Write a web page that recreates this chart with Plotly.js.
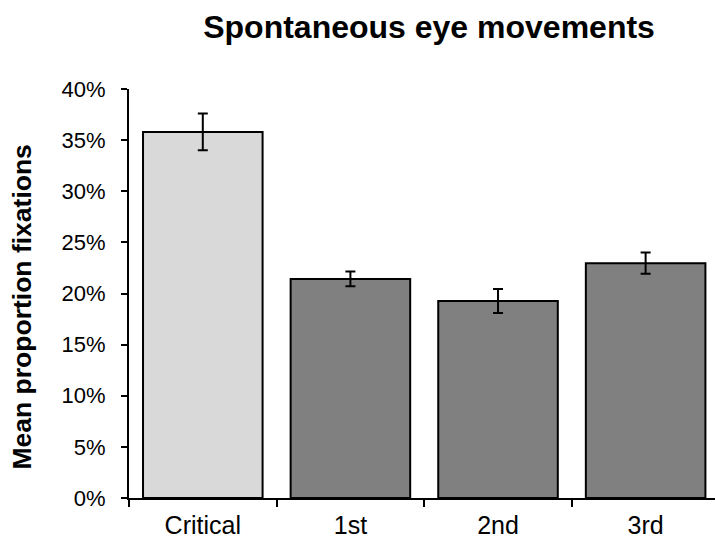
<!DOCTYPE html>
<html>
<head>
<meta charset="utf-8">
<script src="https://cdn.plot.ly/plotly-3.0.1.min.js"></script>
<style>html,body{margin:0;padding:0;background:#fff;}#chart{width:715px;height:542px;}</style>
</head>
<body>
<div id="chart"></div>
<script>
var categories = ["Critical", "1st", "2nd", "3rd"];
var meanValues = [0.358, 0.2143, 0.1927, 0.2296];
var errorValues = [0.018, 0.0071, 0.0118, 0.0104];
var barColors = ["#d9d9d9", "#808080", "#808080", "#808080"];
var yTickValues = [0, 0.05, 0.10, 0.15, 0.20, 0.25, 0.30, 0.35, 0.40];

var FONT = "Liberation Sans, Arial, Helvetica, sans-serif";

var trace = {
  type: "bar",
  x: categories,
  y: meanValues,
  marker: {color: barColors, line: {color: "#000", width: 2}},
  error_y: {type: "data", array: errorValues, visible: true, color: "#000", thickness: 2, width: 5},
  hoverinfo: "x+y"
};

var layout = {
  width: 715,
  height: 542,
  margin: {l: 129, r: 0, t: 89, b: 44, pad: 0},
  paper_bgcolor: "#fff",
  plot_bgcolor: "#fff",
  showlegend: false,
  bargap: 0.19,
  font: {family: FONT, color: "#000"},
  title: {
    text: "<b>Spontaneous eye movements</b>",
    font: {family: FONT, size: 32, color: "#000"},
    xref: "paper", x: 0.512, xanchor: "center",
    yref: "container", y: 1 - 27/542, yanchor: "middle"
  },
  xaxis: {
    type: "category",
    range: [-0.5, 3.47],
    showline: true, linecolor: "#000", linewidth: 2,
    ticks: "outside", ticklen: 7, tickwidth: 2, tickcolor: "#000",
    tickson: "boundaries",
    ticklabelstandoff: 4,
    tickfont: {family: FONT, size: 25, color: "#000"},
    showgrid: false, zeroline: false, fixedrange: true
  },
  yaxis: {
    range: [0, 0.40],
    tickvals: yTickValues,
    tickformat: ".0%",
    showline: true, linecolor: "#000", linewidth: 2,
    ticks: "outside", ticklen: 6, tickwidth: 2, tickcolor: "#000",
    ticklabelstandoff: 11,
    tickfont: {family: FONT, size: 22, color: "#000"},
    showgrid: false, zeroline: false, fixedrange: true
  },
  annotations: [{
    text: "<b>Mean proportion fixations</b>",
    xref: "paper", yref: "paper",
    x: (22 - 129.3) / 585.7, y: (498 - 307) / 408.7,
    xanchor: "center", yanchor: "middle",
    textangle: -90, showarrow: false,
    font: {family: FONT, size: 26.5, color: "#000"}
  }]
};

Plotly.newPlot("chart", [trace], layout, {displayModeBar: false, staticPlot: true});
</script>
</body>
</html>
